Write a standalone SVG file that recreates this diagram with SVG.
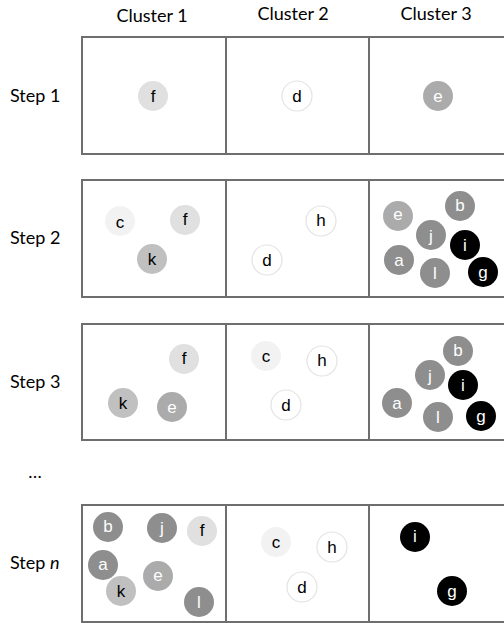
<svg xmlns="http://www.w3.org/2000/svg" width="504" height="623" viewBox="0 0 504 623">
<style>
.box{fill:#fff;stroke:#6e6e6e;stroke-width:2}
.hd{font-family:Lato,"Open Sans","Liberation Sans",sans-serif;font-size:18px;fill:#000}
.lb{font-family:"Liberation Sans",Arial,sans-serif;font-size:17px;text-anchor:middle;dominant-baseline:central}
.n circle{stroke:none}
.w circle{fill:#fff;stroke:#e3e3e3;stroke-width:1.2}
.w text,.c1 text,.f1 text,.k1 text{fill:#000}
.c1 circle{fill:#f2f2f2}
.f1 circle{fill:#e0e0e0}
.k1 circle{fill:#c0c0c0}
.e1 circle{fill:#ababab}
.e1 text,.g1 text,.b1 text{fill:#fff}
.g1 circle{fill:#8e8e8e}
.b1 circle{fill:#000}
</style>
<g id="headers">
<text class="hd" x="152" y="22" text-anchor="middle">Cluster 1</text>
<text class="hd" x="293" y="20" text-anchor="middle">Cluster 2</text>
<text class="hd" x="436" y="20" text-anchor="middle">Cluster 3</text>
<text class="hd" x="10" y="102">Step 1</text>
<text class="hd" x="10" y="244">Step 2</text>
<text class="hd" x="10" y="388">Step 3</text>
<text class="hd" x="35" y="478" text-anchor="middle">…</text>
<text class="hd" x="10" y="569">Step <tspan font-style="italic">n</tspan></text>
</g>
<g id="boxes">
<rect class="box" x="82" y="37" width="144" height="117"/>
<rect class="box" x="226" y="37" width="143" height="117"/>
<rect class="box" x="369" y="37" width="140" height="117"/>
<rect class="box" x="82" y="180" width="144" height="117"/>
<rect class="box" x="226" y="180" width="143" height="117"/>
<rect class="box" x="369" y="180" width="140" height="117"/>
<rect class="box" x="82" y="324" width="144" height="116"/>
<rect class="box" x="226" y="324" width="143" height="116"/>
<rect class="box" x="369" y="324" width="140" height="116"/>
<rect class="box" x="82" y="505" width="144" height="117"/>
<rect class="box" x="226" y="505" width="143" height="117"/>
<rect class="box" x="369" y="505" width="140" height="117"/>
</g>
<g id="step1">
<g id="s1-f" class="n f1"><circle cx="153" cy="96" r="15"/><text class="lb" x="153" y="96">f</text></g>
<g id="s1-d" class="w"><circle cx="297" cy="96" r="15"/><text class="lb" x="297" y="96">d</text></g>
<g id="s1-e" class="n e1"><circle cx="438" cy="96" r="15"/><text class="lb" x="438" y="96">e</text></g>
</g>
<g id="step2">
<g id="s2-c" class="n c1"><circle cx="120" cy="221" r="15"/><text class="lb" x="120" y="222">c</text></g>
<g id="s2-f" class="n f1"><circle cx="185" cy="220" r="15"/><text class="lb" x="185" y="219">f</text></g>
<g id="s2-k" class="n k1"><circle cx="152" cy="259" r="15"/><text class="lb" x="152" y="259">k</text></g>
<g id="s2-h" class="w"><circle cx="321" cy="221" r="15"/><text class="lb" x="321" y="220">h</text></g>
<g id="s2-d" class="w"><circle cx="267" cy="260" r="15"/><text class="lb" x="267" y="260">d</text></g>
<g id="s2-e" class="n e1"><circle cx="398" cy="216" r="15"/><text class="lb" x="398" y="214">e</text></g>
<g id="s2-b" class="n g1"><circle cx="460" cy="206" r="15"/><text class="lb" x="460" y="205">b</text></g>
<g id="s2-j" class="n g1"><circle cx="431" cy="235" r="15"/><text class="lb" x="431" y="236">j</text></g>
<g id="s2-i" class="n b1"><circle cx="465" cy="245" r="15"/><text class="lb" x="465" y="245">i</text></g>
<g id="s2-a" class="n g1"><circle cx="399" cy="260" r="15"/><text class="lb" x="399" y="260">a</text></g>
<g id="s2-l" class="n g1"><circle cx="435" cy="273" r="15"/><text class="lb" x="435" y="273">l</text></g>
<g id="s2-g" class="n b1"><circle cx="483" cy="272" r="15"/><text class="lb" x="483" y="272">g</text></g>
</g>
<g id="step3">
<g id="s3-f" class="n f1"><circle cx="184" cy="359" r="15"/><text class="lb" x="184" y="358">f</text></g>
<g id="s3-k" class="n k1"><circle cx="123" cy="403" r="15"/><text class="lb" x="123" y="403">k</text></g>
<g id="s3-e" class="n e1"><circle cx="172" cy="407" r="15"/><text class="lb" x="172" y="407">e</text></g>
<g id="s3-c" class="n c1"><circle cx="266" cy="356" r="15"/><text class="lb" x="266" y="356">c</text></g>
<g id="s3-h" class="w"><circle cx="322" cy="361" r="15"/><text class="lb" x="322" y="360">h</text></g>
<g id="s3-d" class="w"><circle cx="286" cy="405" r="15"/><text class="lb" x="286" y="405">d</text></g>
<g id="s3-b" class="n g1"><circle cx="458" cy="351" r="15"/><text class="lb" x="458" y="350">b</text></g>
<g id="s3-j" class="n g1"><circle cx="430" cy="375" r="15"/><text class="lb" x="430" y="376">j</text></g>
<g id="s3-i" class="n b1"><circle cx="463" cy="385" r="15"/><text class="lb" x="463" y="385">i</text></g>
<g id="s3-a" class="n g1"><circle cx="397" cy="403" r="15"/><text class="lb" x="397" y="403">a</text></g>
<g id="s3-l" class="n g1"><circle cx="438" cy="417" r="15"/><text class="lb" x="438" y="417">l</text></g>
<g id="s3-g" class="n b1"><circle cx="481" cy="416" r="15"/><text class="lb" x="481" y="416">g</text></g>
</g>
<g id="stepn">
<g id="sn-b" class="n g1"><circle cx="108" cy="527" r="15"/><text class="lb" x="108" y="526">b</text></g>
<g id="sn-j" class="n g1"><circle cx="162" cy="528" r="15"/><text class="lb" x="162" y="528">j</text></g>
<g id="sn-f" class="n f1"><circle cx="202" cy="531" r="15"/><text class="lb" x="202" y="530">f</text></g>
<g id="sn-a" class="n g1"><circle cx="103" cy="565" r="15"/><text class="lb" x="103" y="564">a</text></g>
<g id="sn-e" class="n e1"><circle cx="158" cy="576" r="15"/><text class="lb" x="158" y="575">e</text></g>
<g id="sn-k" class="n k1"><circle cx="121" cy="591" r="15"/><text class="lb" x="121" y="591">k</text></g>
<g id="sn-l" class="n g1"><circle cx="199" cy="602" r="15"/><text class="lb" x="199" y="602">l</text></g>
<g id="sn-c" class="n c1"><circle cx="276" cy="542" r="15"/><text class="lb" x="276" y="542">c</text></g>
<g id="sn-h" class="w"><circle cx="332" cy="547" r="15"/><text class="lb" x="332" y="547">h</text></g>
<g id="sn-d" class="w"><circle cx="302" cy="587" r="15"/><text class="lb" x="302" y="587">d</text></g>
<g id="sn-i" class="n b1"><circle cx="415" cy="537" r="15"/><text class="lb" x="415" y="536">i</text></g>
<g id="sn-g" class="n b1"><circle cx="452" cy="591" r="15"/><text class="lb" x="452" y="591">g</text></g>
</g>
</svg>
